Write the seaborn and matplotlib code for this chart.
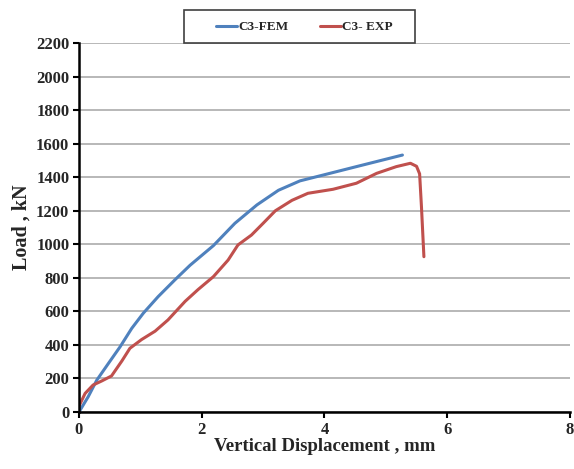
import matplotlib
matplotlib.use("Agg")
import matplotlib.pyplot as plt
from matplotlib.patches import Rectangle
import seaborn as sns
import pandas as pd

# Load-displacement curves for column C3
fem_disp = [0.0, 0.15, 0.29, 0.48, 0.67, 0.86, 1.05, 1.29, 1.56, 1.81, 2.19,
            2.54, 2.9, 3.25, 3.6, 3.98, 4.52, 5.27]
fem_load = [0, 91, 190, 290, 389, 499, 590, 688, 787, 875, 992,
            1125, 1235, 1322, 1378, 1413, 1463, 1532]

exp_disp = [0.0, 0.1, 0.23, 0.37, 0.53, 0.7, 0.83, 1.02, 1.24, 1.45, 1.73, 1.94,
            2.19, 2.43, 2.59, 2.81, 3.0, 3.2, 3.47, 3.73, 4.14, 4.52, 4.85,
            5.17, 5.4, 5.5, 5.55, 5.58, 5.62]
exp_load = [35, 111, 161, 185, 215, 305, 380, 432, 482, 549, 660, 730,
            807, 906, 996, 1055, 1125, 1200, 1262, 1304, 1328, 1364, 1423,
            1463, 1483, 1465, 1420, 1224, 926]

series_names = ["C3-FEM", "C3- EXP"]
series_colors = ["#4F81BD", "#C0504D"]

x_ticks = [0, 2, 4, 6, 8]
y_ticks = list(range(0, 2201, 200))

df = pd.concat([
    pd.DataFrame({"disp": fem_disp, "load": fem_load, "series": series_names[0]}),
    pd.DataFrame({"disp": exp_disp, "load": exp_load, "series": series_names[1]}),
], ignore_index=True)

sns.set_style("white")
plt.rcParams["font.family"] = ["Liberation Serif", "DejaVu Serif"]
plt.rcParams["font.weight"] = "bold"

fig = plt.figure(figsize=(5.74, 4.69), dpi=100)
ax = fig.add_axes([0.1376, 0.1215, 0.8554, 0.7868])

sns.lineplot(data=df, x="disp", y="load", hue="series", hue_order=series_names,
             palette=series_colors, sort=False, estimator=None,
             linewidth=2.2, ax=ax, legend=False)
for line in ax.lines:
    line.set_solid_joinstyle("round")
    line.set_solid_capstyle("round")

ax.set_xlim(0, 8)
ax.set_ylim(0, 2200)
ax.set_xticks(x_ticks)
ax.set_yticks(y_ticks)
ax.set_xticklabels([str(t) for t in x_ticks], fontsize=12, fontweight="bold")
ax.set_yticklabels([str(t) for t in y_ticks], fontsize=12, fontweight="bold")
for lab in ax.get_xticklabels():
    lab.set_clip_on(False)

ax.yaxis.grid(True, color="#b8b8b8", linewidth=1.4)
ax.xaxis.grid(False)
ax.set_axisbelow(True)

for side in ["top", "right"]:
    ax.spines[side].set_visible(False)
for side in ["left", "bottom"]:
    ax.spines[side].set_color("black")
    ax.spines[side].set_linewidth(1.8)

ax.tick_params(axis="both", which="major", direction="out", length=4, width=1.5,
               color="black", pad=3, left=True, bottom=True)

ax.set_xlabel("Vertical Displacement , mm", fontsize=13.5, fontweight="bold", labelpad=0)
ax.set_ylabel("Load , kN", fontsize=14.5, fontweight="bold", labelpad=3)

# Legend: entries without frame, box drawn separately
handles = [plt.Line2D([], [], color=c, linewidth=2.2) for c in series_colors]
leg = fig.legend(handles, series_names, loc="center", ncol=2,
                 bbox_to_anchor=(0.530, 0.9424), frameon=False,
                 prop={"family": "Liberation Serif", "weight": "bold", "size": 9.5},
                 handlelength=1.6, handletextpad=0.05, columnspacing=2.4,
                 borderaxespad=0)
fig.patches.append(Rectangle((0.3206, 0.9083), 0.4024, 0.0704,
                             transform=fig.transFigure, fill=False,
                             edgecolor="#404040", linewidth=1.2))

fig.savefig("out.png", dpi=100)
